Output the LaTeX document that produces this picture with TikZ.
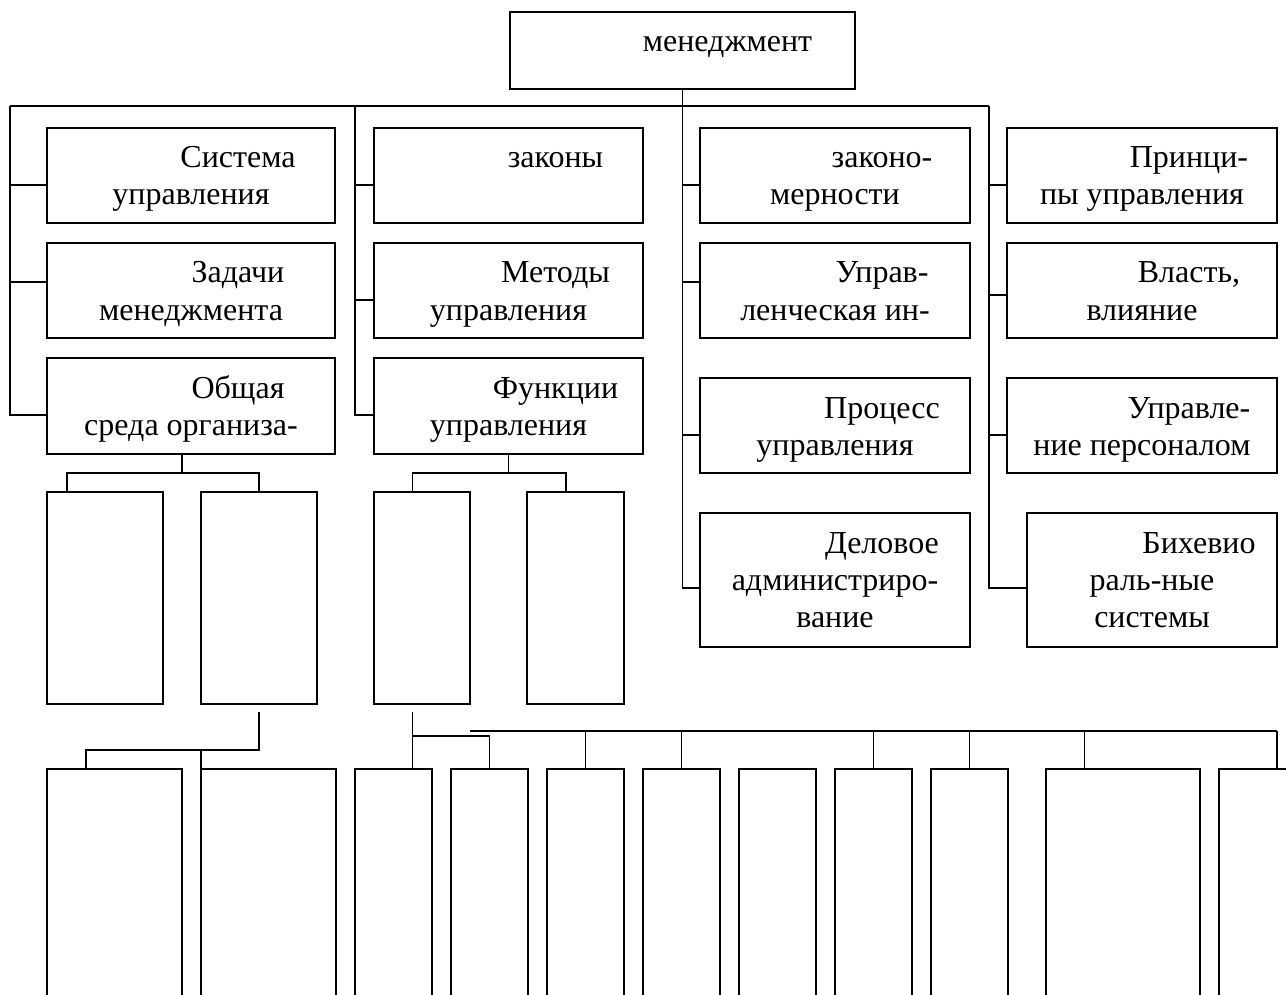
\documentclass[tikz,border=0pt]{standalone}
\usepackage{fontspec}
\setmainfont{Liberation Serif}
\usetikzlibrary{calc}
\newcommand\mkbx[5]{\node[bx, minimum width={(#4-#2)*1pt}, minimum height={(#5-#3)*1pt}] (#1) at (#2,#3) {};}
\begin{document}
\begin{tikzpicture}[x=1pt,y=-1pt,
  bx/.style={draw, line width=1.8pt, inner sep=0pt, outer sep=0pt, anchor=north west},
  ln/.style={line width=1.6pt},
  tx/.style={anchor=base, inner sep=0pt, font=\fontsize{32}{37}\selectfont}]
\useasboundingbox (0,0) rectangle (1286,995);
\clip (0,0) rectangle (1286,995);
% boxes
\mkbx{top}{510}{12}{855}{89}
\mkbx{a1}{47}{128}{335}{223}
\mkbx{a2}{47}{243}{335}{338}
\mkbx{a3}{47}{358}{335}{454}
\mkbx{b1}{374}{128}{643}{223}
\mkbx{b2}{374}{243}{643}{338}
\mkbx{b3}{374}{358}{643}{454}
\mkbx{c1}{700}{128}{970}{223}
\mkbx{c2}{700}{243}{970}{338}
\mkbx{c3}{700}{378}{970}{473}
\mkbx{c4}{700}{513}{970}{647}
\mkbx{d1}{1007}{128}{1277}{223}
\mkbx{d2}{1007}{243}{1277}{338}
\mkbx{d3}{1007}{378}{1277}{473}
\mkbx{d4}{1027}{513}{1277}{647}
\mkbx{m1}{47}{492}{163}{704}
\mkbx{m2}{201}{492}{317}{704}
\mkbx{m3}{374}{492}{470}{704}
\mkbx{m4}{527}{492}{624}{704}
\mkbx{e1}{47}{769}{182}{1010}
\mkbx{e2}{201}{769}{336}{1010}
\mkbx{e3}{355}{769}{432}{1010}
\mkbx{e4}{451}{769}{528}{1010}
\mkbx{e5}{547}{769}{624}{1010}
\mkbx{e6}{643}{769}{720}{1010}
\mkbx{e7}{739}{769}{816}{1010}
\mkbx{e8}{835}{769}{912}{1010}
\mkbx{e9}{931}{769}{1008}{1010}
\mkbx{e10}{1046}{769}{1200}{1010}
\mkbx{e11}{1219}{769}{1310}{1010}
% texts
\node[tx] at ($(top.north)+(45,40)$) {менеджмент};
\node[tx] at ($(a1.north)+(47,40)$) {Система};
\node[tx] at ($(a1.north)+(0,77)$) {управления};
\node[tx] at ($(a2.north)+(47,40)$) {Задачи};
\node[tx] at ($(a2.north)+(0,77)$) {менеджмента};
\node[tx] at ($(a3.north)+(47,40)$) {Общая};
\node[tx] at ($(a3.north)+(0,77)$) {среда организа-};
\node[tx] at ($(b1.north)+(47,40)$) {законы};
\node[tx] at ($(b2.north)+(47,40)$) {Методы};
\node[tx] at ($(b2.north)+(0,77)$) {управления};
\node[tx] at ($(b3.north)+(47,40)$) {Функции};
\node[tx] at ($(b3.north)+(0,77)$) {управления};
\node[tx] at ($(c1.north)+(47,40)$) {законо-};
\node[tx] at ($(c1.north)+(0,77)$) {мерности};
\node[tx] at ($(c2.north)+(47,40)$) {Управ-};
\node[tx] at ($(c2.north)+(0,77)$) {ленческая ин-};
\node[tx] at ($(c3.north)+(47,40)$) {Процесс};
\node[tx] at ($(c3.north)+(0,77)$) {управления};
\node[tx] at ($(c4.north)+(47,40)$) {Деловое};
\node[tx] at ($(c4.north)+(0,77)$) {администриро-};
\node[tx] at ($(c4.north)+(0,114)$) {вание};
\node[tx] at ($(d1.north)+(47,40)$) {Принци-};
\node[tx] at ($(d1.north)+(0,77)$) {пы управления};
\node[tx] at ($(d2.north)+(47,40)$) {Власть,};
\node[tx] at ($(d2.north)+(0,77)$) {влияние};
\node[tx] at ($(d3.north)+(47,40)$) {Управле-};
\node[tx] at ($(d3.north)+(0,77)$) {ние персоналом};
\node[tx] at ($(d4.north)+(47,40)$) {Бихевио};
\node[tx] at ($(d4.north)+(0,77)$) {раль-ные};
\node[tx] at ($(d4.north)+(0,114)$) {системы};
% upper connectors
\coordinate (busL) at (10,106);
\coordinate (busR) at (989,106);
\coordinate (bus2) at (355,106);
\draw[ln] (busL) -- (busR);
\draw[ln] (busL) |- (a3.west |- 0,415);
\draw[ln] (busL |- 0,185) -- (a1.west |- 0,185);
\draw[ln] (busL |- 0,282) -- (a2.west |- 0,282);
\draw[ln] (bus2) |- (b3.west |- 0,415);
\draw[ln] (bus2 |- 0,185) -- (b1.west |- 0,185);
\draw[ln] (bus2 |- 0,300) -- (b2.west |- 0,300);
\draw[ln] (top.south) |- (c4.west |- 0,588);
\draw[ln] (top.south |- 0,185) -- (c1.west |- 0,185);
\draw[ln] (top.south |- 0,282) -- (c2.west |- 0,282);
\draw[ln] (top.south |- 0,435) -- (c3.west |- 0,435);
\draw[ln] (busR) |- (d4.west |- 0,588);
\draw[ln] (busR |- 0,185) -- (d1.west |- 0,185);
\draw[ln] (busR |- 0,295) -- (d2.west |- 0,295);
\draw[ln] (busR |- 0,435) -- (d3.west |- 0,435);
% middle connectors
\draw[ln] (182,0 |- a3.south) -- (182,473);
\draw[ln] (m1.north -| 67,0) |- (m2.north |- 0,473) -- (m2.north);
\draw[ln] (b3.south) -- (b3.south |- 0,473);
\draw[ln] (m3.north -| 412.5,0) |- (566,473) -- (m4.north -| 566,0);
% lower connectors
\coordinate (lo1) at (259,712);
\coordinate (lo2) at (412.5,712);
\draw[ln] (lo1) -- (259,750) -| (e1.north -| 86,0);
\draw[ln] (259,750) -| (e2.north west);
\draw[ln] (lo2) -- (e3.north -| lo2);
\draw[ln] (lo2 |- 0,736) -| (e4.north);
\draw[ln] (470,731) -- (1277,731);
\draw[ln] (e5.north |- 0,731) -- (e5.north);
\draw[ln] (e6.north |- 0,731) -- (e6.north);
\draw[ln] (e8.north |- 0,731) -- (e8.north);
\draw[ln] (e9.north |- 0,731) -- (e9.north);
\draw[ln] (1084.6,731) -- (e10.north -| 1084.6,0);
\draw[ln] (1277,731) -- (e11.north -| 1277,0);
\end{tikzpicture}
\end{document}
